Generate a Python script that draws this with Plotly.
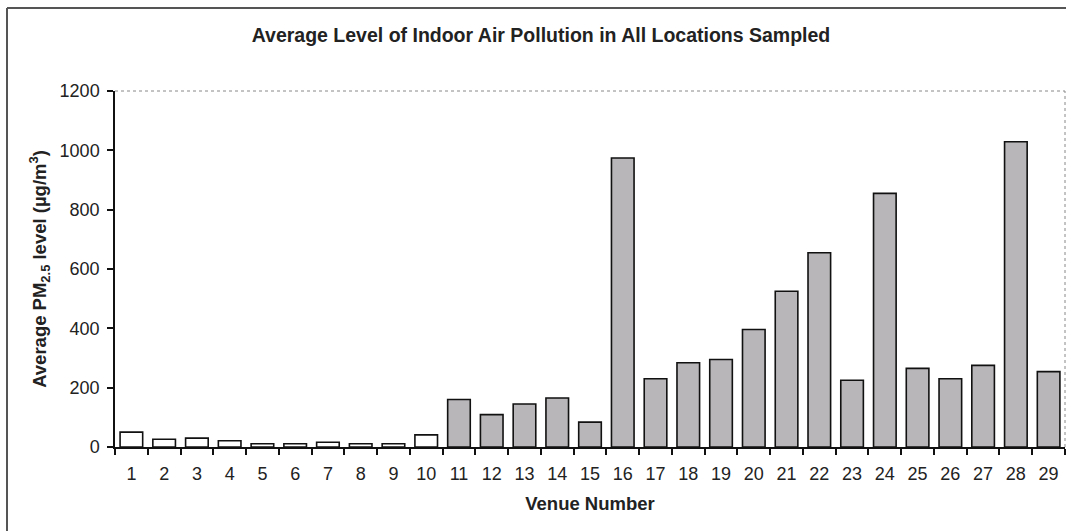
import plotly.graph_objects as go

venues = [str(i) for i in range(1, 30)]
pm25 = [50, 26, 30, 21, 11, 11, 16, 11, 11, 41,
        160, 109, 145, 165, 84, 974, 230, 284, 295, 396,
        525, 655, 225, 855, 265, 230, 275, 1029, 254]
fills = ["white"] * 10 + ["#b8b6b8"] * 19

W, H = 1066, 531
L, R, T, B = 115, 1, 91, 84
pw, ph = W - L - R, H - T - B

FONT = "Liberation Sans, Arial, sans-serif"

fig = go.Figure(go.Bar(
    x=venues, y=pm25,
    marker=dict(color=fills, line=dict(color="#111111", width=1.6)),
    width=0.69,
))

def px_x(p):
    return (p - L) / pw

def px_y(p):
    return (H - B - p) / ph

fig.update_layout(
    width=W, height=H,
    margin=dict(l=L, r=R, t=T, b=B),
    paper_bgcolor="white", plot_bgcolor="white",
    font=dict(family=FONT, color="#111111"),
    showlegend=False,
    title=dict(text="<b>Average Level of Indoor Air Pollution in All Locations Sampled</b>",
               x=541 / W, xanchor="center", y=1 - 35 / H, yanchor="middle",
               font=dict(size=19.5, family=FONT, color="#222222")),
    xaxis=dict(
        type="category", range=[-0.5, 28.5],
        showline=True, linecolor="#111111", linewidth=1.5,
        ticks="outside", tickson="boundaries", ticklen=6, tickcolor="#111111", tickwidth=1.5,
        tickfont=dict(size=18, family=FONT, color="#222222"),
        ticklabelstandoff=10,
        showgrid=False,
        title=dict(text="<b>Venue Number</b>", font=dict(size=18.5, family=FONT, color="#222222"),
                   standoff=14),
    ),
    yaxis=dict(
        range=[0, 1200], tickvals=[0, 200, 400, 600, 800, 1000, 1200],
        showline=True, linecolor="#111111", linewidth=1.5,
        ticks="outside", ticklen=6, tickcolor="#111111", tickwidth=1.5,
        tickfont=dict(size=18, family=FONT, color="#222222"),
        ticklabelstandoff=4,
        showgrid=False, zeroline=False,
        title=dict(text="<b>Average PM<sub>2.5</sub> level (µg/m<sup>3</sup>)</b>",
                   font=dict(size=18.5, family=FONT, color="#222222"), standoff=8),
    ),
    shapes=[
        dict(type="line", xref="paper", yref="paper", x0=0, x1=1, y0=1, y1=1,
             line=dict(color="#888888", width=1, dash="dot")),
        dict(type="line", xref="paper", yref="paper", x0=1, x1=1, y0=0, y1=1,
             line=dict(color="#888888", width=1, dash="dot")),
        dict(type="line", xref="paper", yref="paper", x0=px_x(7), x1=px_x(7),
             y0=px_y(8), y1=px_y(H + 5), line=dict(color="#555555", width=2)),
        dict(type="line", xref="paper", yref="paper", x0=px_x(7), x1=px_x(W + 5),
             y0=px_y(8), y1=px_y(8), line=dict(color="#555555", width=2)),
    ],
)

fig.write_html("out.html",
               config={"displayModeBar": False},
               post_script="document.body.style.margin='0';document.body.style.overflow='hidden';")
